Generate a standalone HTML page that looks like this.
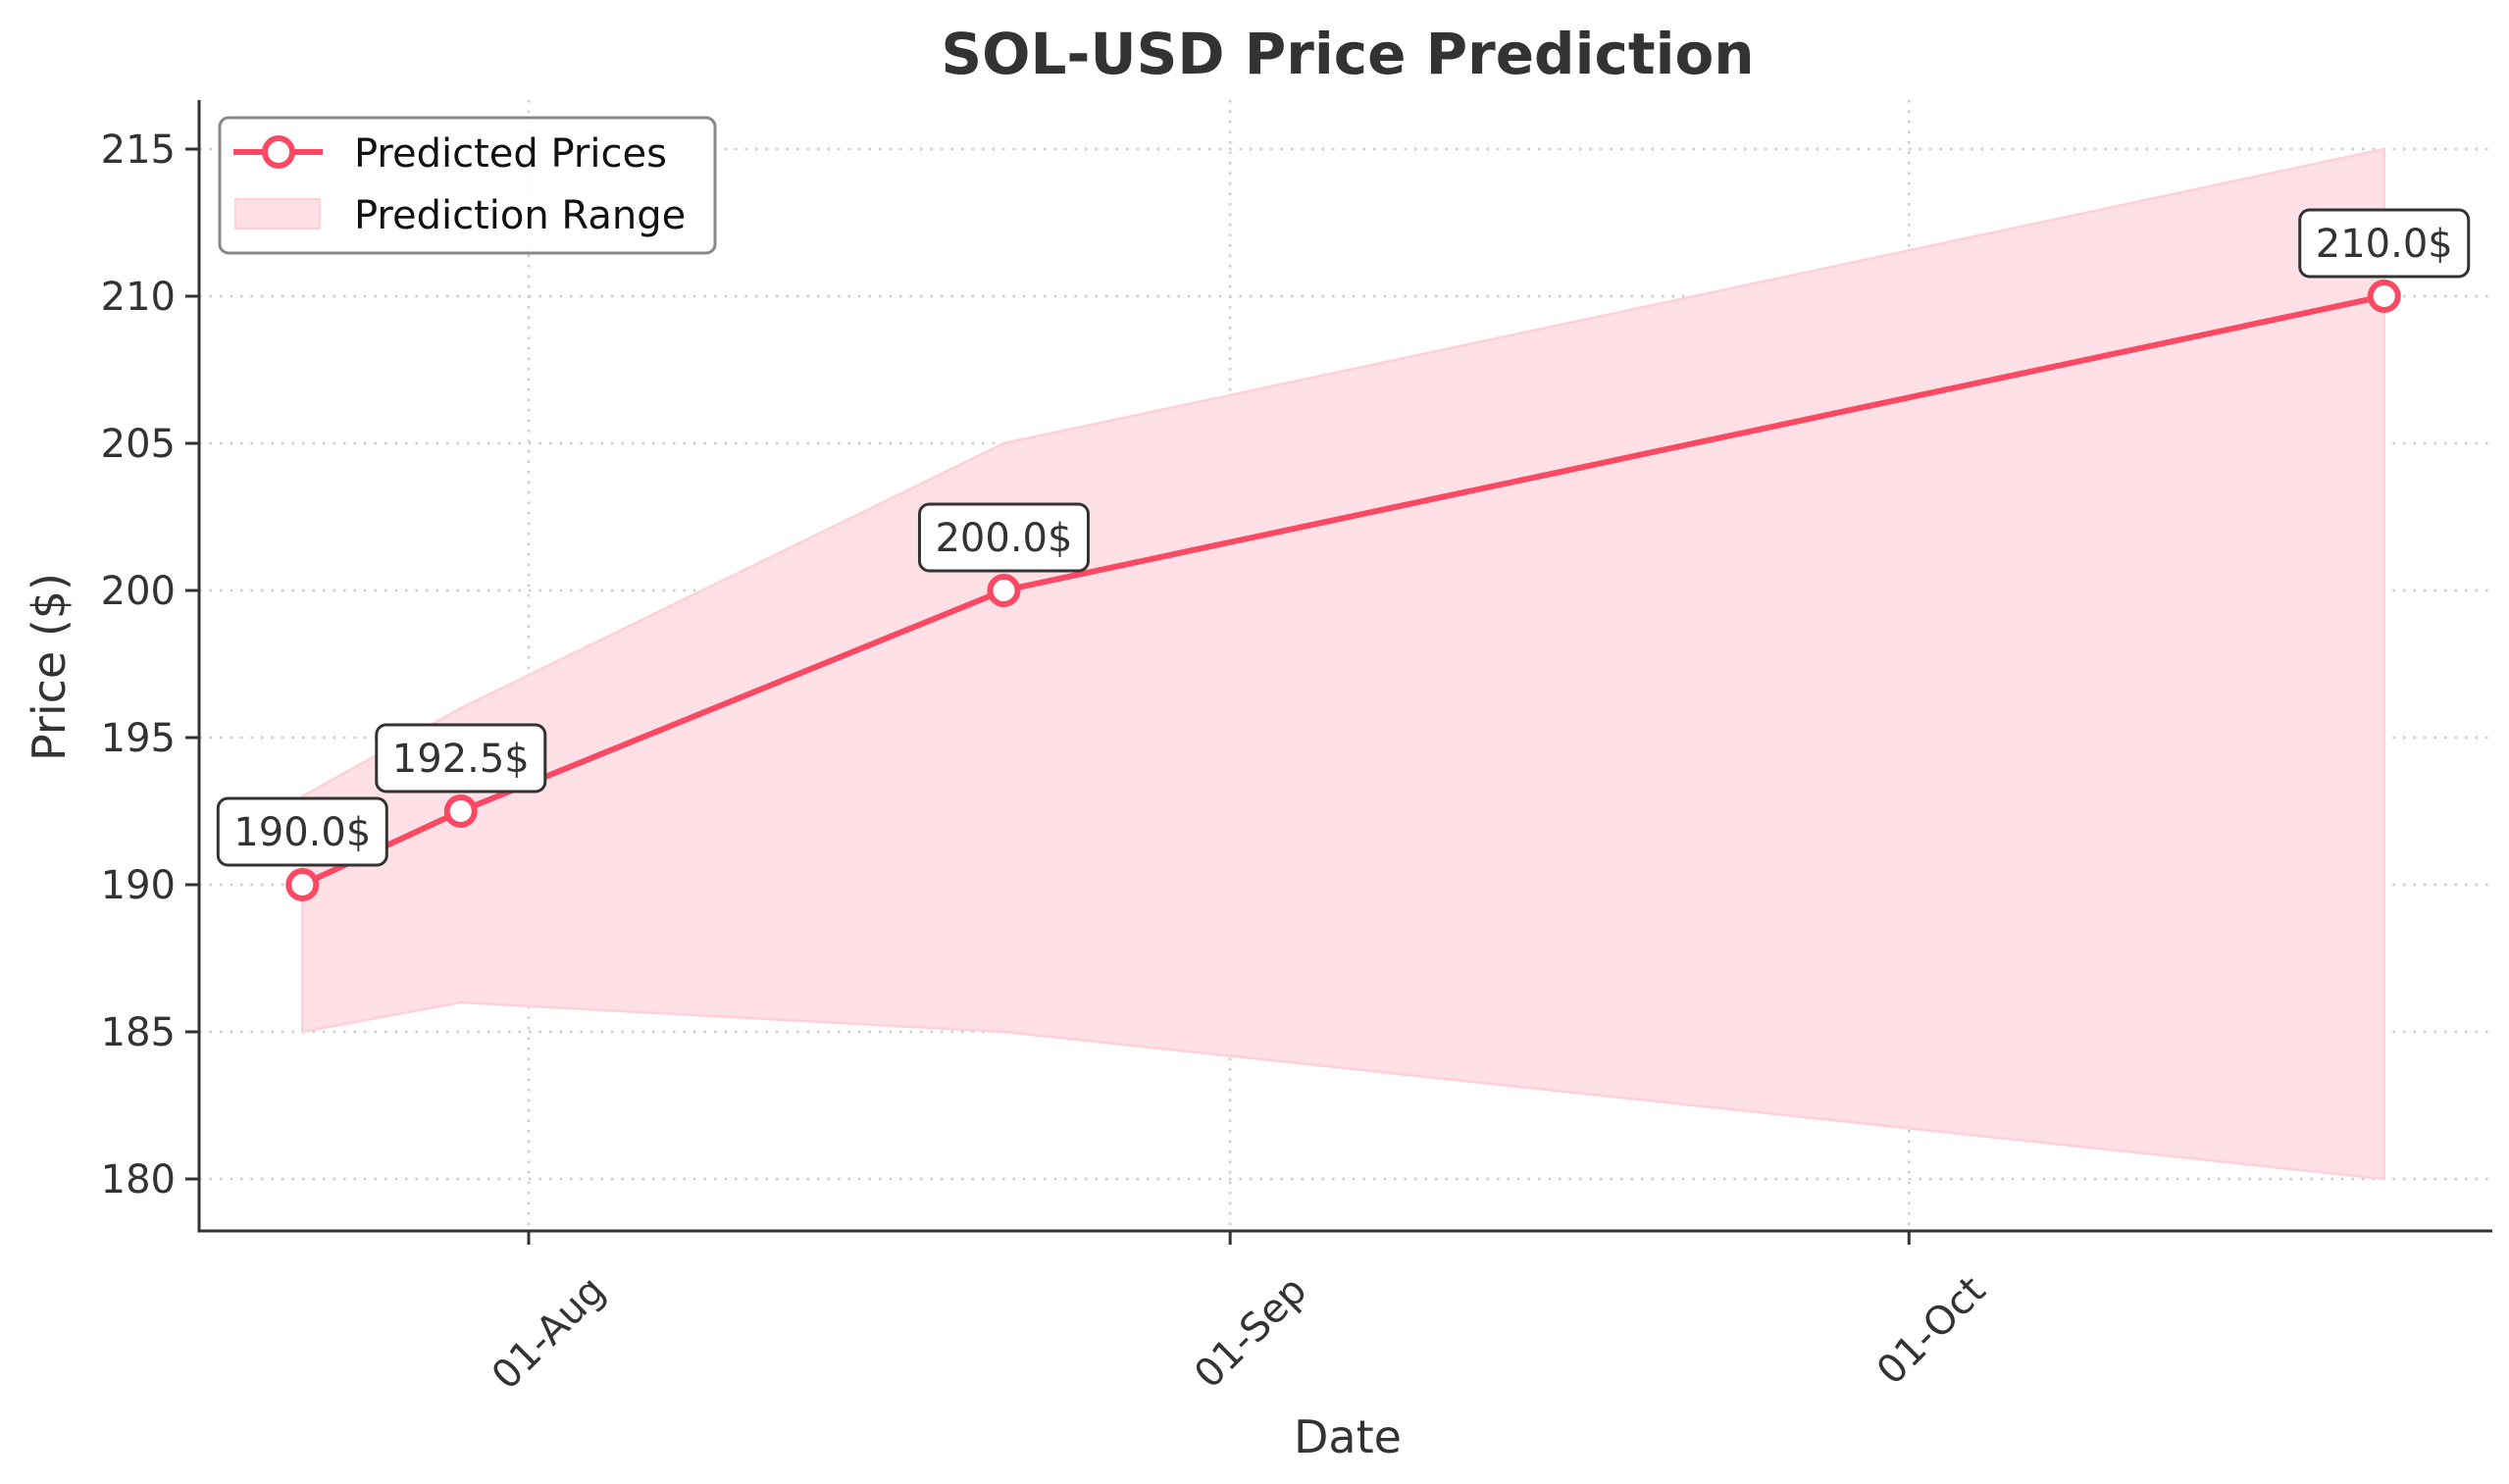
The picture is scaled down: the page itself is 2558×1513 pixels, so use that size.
<!DOCTYPE html>
<html><head><meta charset="utf-8"><style>
html,body{margin:0;padding:0;background:#fff;}
svg{display:block;font-family:"DejaVu Sans","Liberation Sans",sans-serif;}
</style></head><body>
<svg id="chart" width="2558" height="1513" viewBox="0 0 2558 1513" xmlns="http://www.w3.org/2000/svg">
<text x="1374" y="75" text-anchor="middle" font-size="58" font-weight="bold" fill="#333">SOL-USD Price Prediction</text>
<g id="grid"></g>
<g id="band"></g>
<g id="series"></g>
<g id="axes"></g>
<text x="1374" y="1481" text-anchor="middle" font-size="46" fill="#333">Date</text>
<text transform="translate(66,680) rotate(-90)" text-anchor="middle" font-size="46" fill="#333">Price ($)</text>
<g>
<rect x="224" y="120" width="505" height="138" rx="9" fill="#fff" fill-opacity="0.85" stroke="#888" stroke-width="3"/>
<g>
<line x1="238" y1="155" x2="329" y2="155" stroke="#fa4a63" stroke-width="6"/>
<circle cx="284" cy="155" r="14" fill="#fff" stroke="#fa4a63" stroke-width="6"/>
<text x="361" y="170" font-size="40" fill="#111">Predicted Prices</text>
</g>
<g>
<rect x="240" y="203" width="86" height="30" fill="#ffe0e6" stroke="#ffd0d8" stroke-width="2"/>
<text x="361" y="233" font-size="40" fill="#111">Prediction Range</text>
</g>
</g>
</svg>
<script>
const dates = ["2024-07-22","2024-07-29","2024-08-22","2024-10-22"];
const predicted = [190.0, 192.5, 200.0, 210.0];
const upper = [193, 196, 205, 215];
const lower = [185, 186, 185, 180];
const yTicks = [180, 185, 190, 195, 200, 205, 210, 215];
const xTickDates = ["2024-08-01","2024-09-01","2024-10-01"];
const xTickLabels = ["01-Aug","01-Sep","01-Oct"];

const NS = "http://www.w3.org/2000/svg";
const L = 203, R = 2541, T = 102, B = 1255;
const day0 = Date.parse("2024-08-01");
function xs(d){ return 539 + (Date.parse(d) - day0) / 86400000 * 23.07; }
function ys(v){ return 1202 - (v - 180) * 30; }
function mk(tag, attrs, parent){
  const e = document.createElementNS(NS, tag);
  for (const k in attrs) e.setAttribute(k, attrs[k]);
  parent.appendChild(e);
  return e;
}
const grid = document.getElementById("grid");
const axes = document.getElementById("axes");
const band = document.getElementById("band");
const series = document.getElementById("series");

yTicks.forEach(v => {
  const y = ys(v);
  const g = mk("line", {x1:L, x2:R, y1:y, y2:y, stroke:"#ccc", "stroke-width":2.5, "stroke-dasharray":"2.5 8"}, grid);
  
  
  const t = mk("line", {x1:L-14, x2:L, y1:y, y2:y, stroke:"#333", "stroke-width":3}, axes);
  
  
  const lb = mk("text", {x:L-24, y:y+14, "text-anchor":"end", "font-size":40, fill:"#333"}, axes);
  lb.textContent = String(v);
  
  
});
xTickDates.forEach((d, i) => {
  const x = xs(d);
  const g = mk("line", {x1:x, x2:x, y1:T, y2:B, stroke:"#ccc", "stroke-width":2.5, "stroke-dasharray":"2.5 8"}, grid);
  
  
  const t = mk("line", {x1:x, x2:x, y1:B, y2:B+14, stroke:"#333", "stroke-width":3}, axes);
  
  
  const px = x + 80, py = 1318;
  const lb = mk("text", {x:px, y:py, "text-anchor":"end", "font-size":40, fill:"#333", transform:`rotate(-45 ${px} ${py})`}, axes);
  lb.textContent = xTickLabels[i];
  
  
});
const ax1 = mk("line", {x1:L, x2:L, y1:T, y2:B+1.5, stroke:"#333", "stroke-width":3}, axes);


const ax2 = mk("line", {x1:L-1.5, x2:R, y1:B, y2:B, stroke:"#333", "stroke-width":3}, axes);



let pts = dates.map((d,i)=>xs(d)+","+ys(upper[i]));
pts = pts.concat(dates.map((d,i)=>xs(d)+","+ys(lower[i])).reverse());
const poly = mk("polygon", {points:pts.join(" "), fill:"#ffe0e6", stroke:"#ffd0d8", "stroke-width":2.5}, band);



const line = mk("polyline", {points:dates.map((d,i)=>xs(d)+","+ys(predicted[i])).join(" "), fill:"none", stroke:"#fa4a63", "stroke-width":6, "stroke-linejoin":"round"}, series);


dates.forEach((d,i) => {
  const x = xs(d), y = ys(predicted[i]);
  const c = mk("circle", {cx:x, cy:y, r:14, fill:"#fff", stroke:"#fa4a63", "stroke-width":6}, series);
  
  
  const bx = mk("rect", {x:x-86, y:y-88, width:172, height:68, rx:10, fill:"#fff", stroke:"#333", "stroke-width":3}, series);
  
  
  const t = mk("text", {x:x, y:y-40, "text-anchor":"middle", "font-size":40, fill:"#333"}, series);
  t.textContent = predicted[i].toFixed(1) + "$";
  
  
});
</script>
</body></html>
